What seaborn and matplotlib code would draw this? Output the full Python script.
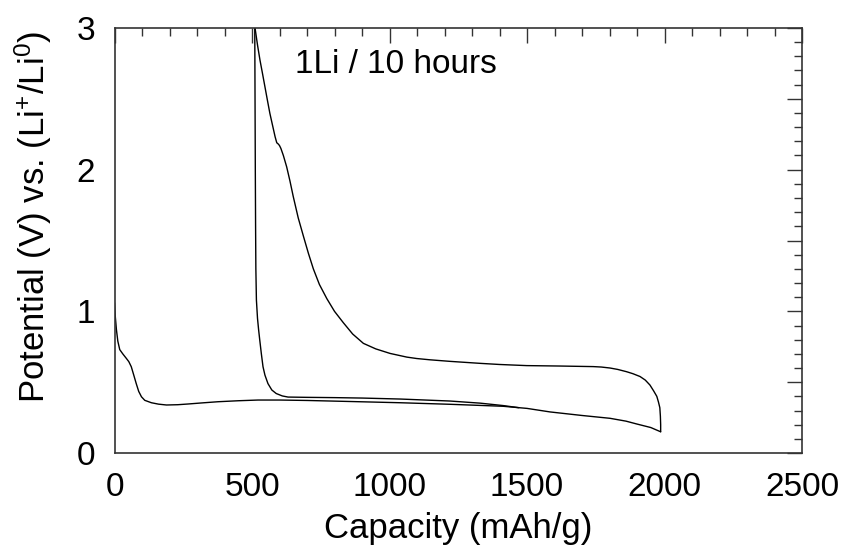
import matplotlib
matplotlib.use("Agg")
import matplotlib.pyplot as plt
from matplotlib.ticker import MultipleLocator, FuncFormatter
import seaborn as sns
import pandas as pd

# First discharge
dis1_cap = [0, 3, 7, 12, 19, 30, 43, 52, 61, 70, 79, 88, 98, 110, 134, 160, 189, 230, 267,
            320, 376, 450, 522, 600, 700, 850, 1038, 1220, 1413, 1500, 1584, 1700, 1802,
            1860, 1899, 1950, 1986]
dis1_v = [1.06, 0.96, 0.87, 0.79, 0.73, 0.70, 0.668, 0.645, 0.609, 0.55, 0.49, 0.435, 0.397,
          0.372, 0.355, 0.345, 0.339, 0.341, 0.346, 0.354, 0.362, 0.369, 0.374, 0.374, 0.371,
          0.364, 0.355, 0.344, 0.33, 0.315, 0.29, 0.265, 0.245, 0.225, 0.205, 0.18, 0.15]

# Charge
chg_cap = [1986, 1986, 1985, 1983, 1978, 1972, 1960, 1947, 1930, 1911, 1885, 1862, 1830,
           1802, 1770, 1741, 1620, 1499, 1400, 1329, 1220, 1147, 1099, 1063, 1002, 950, 905,
           866, 832, 800, 772, 745, 723, 705, 687, 668, 650, 638, 626, 614, 605, 600, 596,
           590, 584, 575, 565, 556, 547, 538, 529, 520, 511]
chg_v = [0.15, 0.20, 0.26, 0.32, 0.36, 0.40, 0.44, 0.48, 0.515, 0.54, 0.56, 0.574, 0.59,
         0.60, 0.607, 0.61, 0.614, 0.617, 0.625, 0.633, 0.647, 0.658, 0.667, 0.677, 0.703,
         0.735, 0.774, 0.84, 0.92, 1.00, 1.09, 1.19, 1.30, 1.41, 1.53, 1.66, 1.81, 1.92,
         2.02, 2.10, 2.15, 2.17, 2.18, 2.19, 2.232, 2.31, 2.397, 2.49, 2.585, 2.68, 2.773,
         2.88, 3.0]

# Second discharge
dis2_cap = [510, 511, 512, 513, 514, 516, 520, 524, 528, 534, 540, 547, 558, 572, 588,
            610, 631, 700, 800, 900, 1040, 1220, 1330, 1413, 1470]
dis2_v = [3.0, 2.5, 2.0, 1.6, 1.3, 1.08, 0.95, 0.87, 0.80, 0.70, 0.609, 0.55, 0.49, 0.445,
          0.42, 0.403, 0.395, 0.393, 0.391, 0.388, 0.381, 0.367, 0.352, 0.335, 0.32]

x_ticks = [0, 500, 1000, 1500, 2000, 2500]
y_ticks = [0, 1, 2, 3]

sns.set_theme(style="white")
plt.rcParams["font.family"] = ["Liberation Sans", "DejaVu Sans"]
plt.rcParams["mathtext.fontset"] = "custom"
plt.rcParams["mathtext.rm"] = "Liberation Sans"
plt.rcParams["mathtext.it"] = "Liberation Sans"
plt.rcParams["text.color"] = "black"
plt.rcParams["axes.labelcolor"] = "black"

fig = plt.figure(figsize=(8.42, 5.52), dpi=100)
ax = fig.add_axes([0.136, 0.1793, 0.8165, 0.77])

for cap, v in [(dis1_cap, dis1_v), (chg_cap, chg_v), (dis2_cap, dis2_v)]:
    df = pd.DataFrame({"cap": cap, "v": v})
    sns.lineplot(data=df, x="cap", y="v", sort=False, estimator=None, color="black",
                 linewidth=1.0, ax=ax)

ax.set_xlim(0, 2500)
ax.set_ylim(0, 3)
ax.xaxis.set_major_locator(MultipleLocator(500))
ax.xaxis.set_minor_locator(MultipleLocator(100))
ax.yaxis.set_major_locator(MultipleLocator(0.5))
ax.yaxis.set_minor_locator(MultipleLocator(0.1))
ax.xaxis.set_major_formatter(FuncFormatter(lambda v, p: f"{int(round(v))}" if int(round(v)) in x_ticks else ""))
ax.yaxis.set_major_formatter(FuncFormatter(lambda v, p: f"{int(round(v))}" if abs(v - round(v)) < 1e-6 and int(round(v)) in y_ticks else ""))

ax.tick_params(which="both", direction="in", top=True, right=True, colors="#333333",
               labelcolor="black", labelsize=24)
ax.tick_params(which="major", length=11, width=1.0)
ax.tick_params(which="minor", length=6, width=1.0)
ax.tick_params(axis="x", which="major", pad=14)
ax.tick_params(axis="y", which="major", pad=14)
for s in ax.spines.values():
    s.set_color("#333333")
    s.set_linewidth(1.2)

ax.set_xlabel("Capacity (mAh/g)", fontsize=25, labelpad=6)
ax.set_ylabel("Potential (V) vs. (Li$^{+}$/Li$^{0}$)", fontsize=25)
ax.yaxis.set_label_coords(-0.088, 0.555)
ax.text(656, 2.68, "1Li / 10 hours", fontsize=24, ha="left", va="baseline")

fig.savefig("out.png", dpi=100)
